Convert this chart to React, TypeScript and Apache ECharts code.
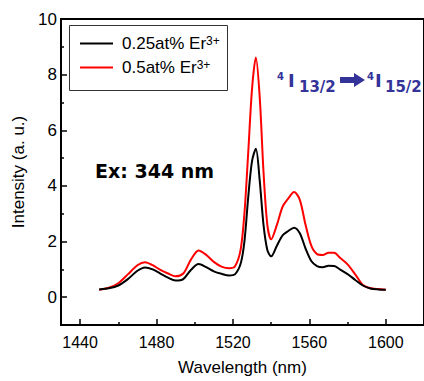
import React, { useEffect, useRef } from "react";
import * as echarts from "echarts";

const wavelengths = [1450, 1455, 1460, 1465, 1470, 1474, 1478, 1482, 1486, 1490, 1494, 1498, 1502, 1506, 1510, 1514, 1518, 1521, 1524, 1526, 1528, 1530, 1532, 1534, 1536, 1538, 1540, 1543, 1546, 1549, 1552, 1555, 1558, 1561, 1564, 1567, 1570, 1573, 1576, 1580, 1584, 1588, 1592, 1596, 1600];

const er025 = [0.28, 0.32, 0.42, 0.65, 0.95, 1.07, 1.0, 0.85, 0.7, 0.6, 0.65, 0.98, 1.19, 1.08, 0.93, 0.84, 0.78, 0.82, 1.2, 2.0, 3.6, 4.9, 5.34, 4.2, 2.6, 1.7, 1.47, 1.85, 2.22, 2.38, 2.5, 2.3, 1.75, 1.3, 1.12, 1.08, 1.13, 1.12, 1.0, 0.83, 0.62, 0.42, 0.31, 0.28, 0.27];

const er05 = [0.27, 0.34, 0.5, 0.82, 1.15, 1.26, 1.15, 0.98, 0.85, 0.75, 0.85, 1.35, 1.68, 1.52, 1.27, 1.1, 1.04, 1.1, 1.7, 3.0, 5.2, 7.5, 8.62, 7.2, 4.5, 2.6, 2.08, 2.6, 3.25, 3.55, 3.78, 3.5, 2.6, 1.85, 1.55, 1.52, 1.6, 1.6, 1.42, 1.18, 0.82, 0.44, 0.32, 0.29, 0.27];

const seriesNames = ["0.25at% Er3+", "0.5at% Er3+"];
const xMajorTicks = [1440, 1480, 1520, 1560, 1600];
const xMinorTicks = [1460, 1500, 1540, 1580];
const yMajorTicks = [0, 2, 4, 6, 8, 10];
const yMinorTicks = [1, 3, 5, 7, 9];

const ARIAL = "'Liberation Sans', Arial, sans-serif";
const VERD = "'DejaVu Sans', Verdana, sans-serif";
const BLUE = "#333399";

export default function App() {
  const ref = useRef<HTMLDivElement>(null);
  useEffect(() => {
    if (!ref.current) return;
    const chart = echarts.init(ref.current, null, { renderer: "svg" });
    const pairs = (ys: number[]) => wavelengths.map((w, i) => [w, ys[i]]);
    const xBase = { type: "value", min: 1430, max: 1620, splitLine: { show: false }, position: "bottom" };
    const yBase = { type: "value", min: -1, max: 10, splitLine: { show: false }, position: "left" };
    const plain = (v: number) => String(v);
    chart.setOption({
      animation: false,
      backgroundColor: "#fff",
      grid: { left: 61, top: 19, width: 369, height: 309, show: true, borderColor: "#000", borderWidth: 2, backgroundColor: "transparent" },
      xAxis: [
        {
          ...xBase,
          name: "Wavelength (nm)",
          nameLocation: "middle",
          nameGap: 34,
          nameTextStyle: { fontFamily: ARIAL, fontSize: 17, color: "#000" },
          axisLine: { onZero: false, lineStyle: { color: "#000", width: 2 } },
          axisTick: { inside: true, length: 6, customValues: xMajorTicks, lineStyle: { color: "#000", width: 1.5 } },
          axisLabel: { customValues: xMajorTicks, formatter: plain, margin: 9, fontFamily: ARIAL, fontSize: 16, color: "#000" },
        },
        {
          ...xBase,
          axisLine: { show: false, onZero: false },
          axisTick: { inside: true, length: 3, customValues: xMinorTicks, lineStyle: { color: "#000", width: 1.5 } },
          axisLabel: { show: false },
        },
      ],
      yAxis: [
        {
          ...yBase,
          name: "Intensity (a. u.)",
          nameLocation: "middle",
          nameGap: 30,
          nameTextStyle: { fontFamily: ARIAL, fontSize: 17, color: "#000" },
          axisLine: { onZero: false, lineStyle: { color: "#000", width: 2 } },
          axisTick: { inside: true, length: 6, customValues: yMajorTicks, lineStyle: { color: "#000", width: 1.5 } },
          axisLabel: { customValues: yMajorTicks, formatter: plain, margin: 4, fontFamily: ARIAL, fontSize: 17, color: "#000" },
        },
        {
          ...yBase,
          axisLine: { show: false, onZero: false },
          axisTick: { inside: true, length: 3, customValues: yMinorTicks, lineStyle: { color: "#000", width: 1.5 } },
          axisLabel: { show: false },
        },
      ],
      legend: {
        orient: "vertical",
        left: 80,
        top: 35,
        padding: 0,
        itemWidth: 33,
        itemHeight: 2,
        itemGap: 7,
        icon: "rect",
        data: seriesNames,
        formatter: (name: string) => "{t|" + name.replace("3+", "") + "}{sup|3+}",
        textStyle: {
          rich: {
            t: { fontFamily: ARIAL, fontSize: 17, color: "#000", padding: [0, 0, 0, 4] },
            sup: { fontFamily: ARIAL, fontSize: 12, color: "#000", verticalAlign: "top", padding: [0, 0, 4, 0] },
          },
        },
      },
      graphic: [
        { type: "rect", shape: { x: 69.5, y: 25.5, width: 158, height: 65 }, style: { fill: "none", stroke: "#333", lineWidth: 1 }, z: 10 },
        { type: "text", x: 95, y: 171, style: { text: "Ex: 344 nm", font: `bold 19px ${VERD}`, fill: "#000", textVerticalAlign: "middle" } },
        { type: "text", x: 277, y: 76, style: { text: "4", font: `bold 10px ${VERD}`, fill: BLUE, textVerticalAlign: "middle" } },
        { type: "text", x: 288, y: 80, style: { text: "I", font: `bold 18px ${VERD}`, fill: BLUE, textVerticalAlign: "middle" } },
        { type: "text", x: 299, y: 86.5, style: { text: "13/2", font: `bold 15px ${VERD}`, fill: BLUE, textVerticalAlign: "middle" } },
        { type: "polygon", shape: { points: [[340, 77], [354, 77], [354, 73], [365, 80], [354, 87], [354, 83], [340, 83]] }, style: { fill: BLUE } },
        { type: "text", x: 367, y: 76, style: { text: "4", font: `bold 10px ${VERD}`, fill: BLUE, textVerticalAlign: "middle" } },
        { type: "text", x: 375, y: 80, style: { text: "I", font: `bold 18px ${VERD}`, fill: BLUE, textVerticalAlign: "middle" } },
        { type: "text", x: 385, y: 86.5, style: { text: "15/2", font: `bold 15px ${VERD}`, fill: BLUE, textVerticalAlign: "middle" } },
      ],
      series: [
        { name: seriesNames[0], type: "line", data: pairs(er025), symbol: "none", smooth: 0.3, lineStyle: { color: "#000", width: 2 }, itemStyle: { color: "#000" }, xAxisIndex: 0, yAxisIndex: 0, z: 3 },
        { name: seriesNames[1], type: "line", data: pairs(er05), symbol: "none", smooth: 0.3, lineStyle: { color: "#ff0000", width: 2 }, itemStyle: { color: "#ff0000" }, xAxisIndex: 0, yAxisIndex: 0, z: 2 },
      ],
    });
    return () => chart.dispose();
  }, []);
  return <div ref={ref} style={{ width: 424, height: 381, position: "absolute", left: 0, top: 0 }} />;
}
